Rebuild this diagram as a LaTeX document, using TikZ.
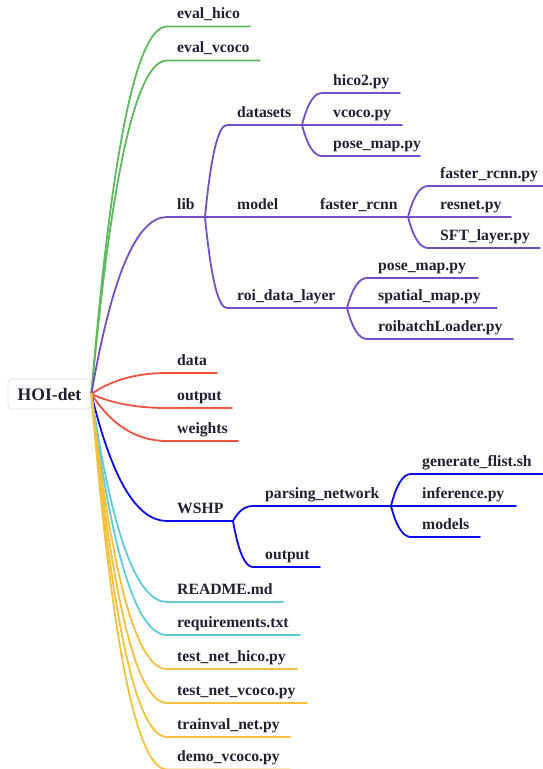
\documentclass[tikz,border=0pt]{standalone}
\usepackage{fontspec}
\setmainfont{Liberation Serif}
\usetikzlibrary{calc}

\definecolor{txt}{RGB}{32,32,50}
\definecolor{cgreen}{RGB}{94,184,94}
\definecolor{cpurple}{RGB}{116,78,200}
\definecolor{cred}{RGB}{238,82,66}
\definecolor{cblue}{RGB}{10,10,236}
\definecolor{ccyan}{RGB}{96,202,218}
\definecolor{cyellow}{RGB}{245,192,62}
\definecolor{rootedge}{RGB}{222,222,222}

\tikzset{
  lbl/.style={anchor=base west, inner sep=0pt, text=txt,
    font=\fontsize{15.7}{18}\selectfont\bfseries},
  rootbox/.style={draw=rootedge, line width=0.8pt, fill=white, rounded corners=4pt,
    minimum width=83pt, minimum height=30pt, inner sep=0pt, text=txt,
    font=\fontsize{17.6}{20}\selectfont\bfseries},
  edge/.style={line width=1.8pt, line cap=round},
  branch/.style={to path={
    let \p1=(\tikztostart), \p2=(\tikztotarget) in
    .. controls ({\x1+0.27*(\x2-\x1)},{\y1+0.67*(\y2-\y1)})
            and ({\x1+0.6*(\x2-\x1)},{\y2}) .. (\tikztotarget) \tikztonodes}}
}

% #1 name, #2 parent point, #3 colour, #4 y, #5 line start x,
% #6 label x, #7 line end x, #8 label
\newcommand\mmleaf[8]{%
  \coordinate (#1-s) at (#5,#4);
  \coordinate (#1-e) at (#7,#4);
  \node[lbl] (#1) at (#6,#4-8) {#8};
  \draw[edge,#3] (#2) to[branch] (#1-s) -- (#1-e);
}

\begin{document}
\begin{tikzpicture}[x=1pt,y=-1pt]
\useasboundingbox (0,0) rectangle (543,769);

% root
\node[rootbox] (root) at (49.5,394) {HOI-det};
\coordinate (root-pt) at (root.east);

% top level
\mmleaf{evalh}{root-pt}{cgreen}{26.5}{167}{177}{250}{eval\_hico}
\mmleaf{evalv}{root-pt}{cgreen}{60.5}{167}{177}{260}{eval\_vcoco}
\mmleaf{lib}{root-pt}{cpurple}{217}{167}{177}{205}{lib}
\mmleaf{data}{root-pt}{cred}{373}{167}{177}{217}{data}
\mmleaf{output}{root-pt}{cred}{408}{167}{177}{232}{output}
\mmleaf{weights}{root-pt}{cred}{441}{167}{177}{238}{weights}
\mmleaf{wshp}{root-pt}{cblue}{521}{167}{177}{233}{WSHP}
\mmleaf{readme}{root-pt}{ccyan}{602}{167}{177}{283}{README.md}
\mmleaf{req}{root-pt}{ccyan}{635}{167}{177}{300}{requirements.txt}
\mmleaf{tnh}{root-pt}{cyellow}{669}{167}{177}{297}{test\_net\_hico.py}
\mmleaf{tnv}{root-pt}{cyellow}{703}{167}{177}{307}{test\_net\_vcoco.py}
\mmleaf{trainval}{root-pt}{cyellow}{737}{167}{177}{290}{trainval\_net.py}
\mmleaf{demo}{root-pt}{cyellow}{769.5}{167}{177}{290}{demo\_vcoco.py}

% lib
\mmleaf{datasets}{lib-e}{cpurple}{125}{227}{237}{302}{datasets}
\mmleaf{model}{lib-e}{cpurple}{217}{227}{237}{288}{model}
\mmleaf{roi}{lib-e}{cpurple}{308}{227}{237}{347}{roi\_data\_layer}

\mmleaf{hico}{datasets-e}{cpurple}{93}{322}{333}{400}{hico2.py}
\mmleaf{vcoco}{datasets-e}{cpurple}{125}{322}{333}{402}{vcoco.py}
\mmleaf{posea}{datasets-e}{cpurple}{156}{322}{333}{420}{pose\_map.py}

\mmleaf{frcnn}{model-e}{cpurple}{217}{308}{320}{408}{faster\_rcnn}
\mmleaf{frcnnpy}{frcnn-e}{cpurple}{186}{428}{440}{545}{faster\_rcnn.py}
\mmleaf{resnet}{frcnn-e}{cpurple}{217}{428}{440}{511}{resnet.py}
\mmleaf{sft}{frcnn-e}{cpurple}{248}{428}{440}{540}{SFT\_layer.py}

\mmleaf{poseb}{roi-e}{cpurple}{278}{367}{378}{478}{pose\_map.py}
\mmleaf{spatial}{roi-e}{cpurple}{308}{367}{378}{497}{spatial\_map.py}
\mmleaf{roibatch}{roi-e}{cpurple}{339}{367}{378}{513}{roibatchLoader.py}

% WSHP
\mmleaf{parsing}{wshp-e}{cblue}{506}{253}{265}{391}{parsing\_network}
\mmleaf{wout}{wshp-e}{cblue}{567}{253}{265}{320}{output}
\mmleaf{gen}{parsing-e}{cblue}{474}{411}{422}{545}{generate\_flist.sh}
\mmleaf{infer}{parsing-e}{cblue}{506}{411}{422}{516}{inference.py}
\mmleaf{models}{parsing-e}{cblue}{537}{411}{422}{480}{models}
\end{tikzpicture}
\end{document}
